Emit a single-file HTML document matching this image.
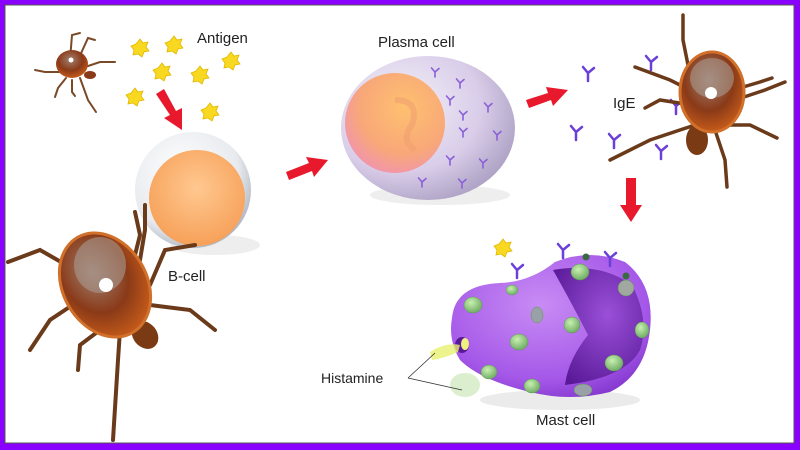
<!DOCTYPE html>
<html><head><meta charset="utf-8"><style>
html,body{margin:0;padding:0;width:800px;height:450px;overflow:hidden;background:#fff}
svg{display:block}
text{font-family:"Liberation Sans",sans-serif;fill:#222}
</style></head><body>
<svg width="800" height="450" viewBox="0 0 800 450" xmlns="http://www.w3.org/2000/svg">
<defs>
<radialGradient id="bsph" cx="0.4" cy="0.35" r="0.7"><stop offset="0" stop-color="#ffffff"/><stop offset="0.7" stop-color="#e8eaee"/><stop offset="1" stop-color="#a8b0bc"/></radialGradient>
<radialGradient id="borg" cx="0.5" cy="0.4" r="0.7"><stop offset="0" stop-color="#ffc890"/><stop offset="1" stop-color="#f59a50"/></radialGradient>
<radialGradient id="psph" cx="0.35" cy="0.35" r="0.75"><stop offset="0" stop-color="#f4f2f8"/><stop offset="0.6" stop-color="#d9cde9"/><stop offset="1" stop-color="#a89cc0"/></radialGradient>
<radialGradient id="pnuc" cx="0.6" cy="0.35" r="0.75"><stop offset="0" stop-color="#ffc070"/><stop offset="0.6" stop-color="#f8a878"/><stop offset="1" stop-color="#f090b8"/></radialGradient>
<radialGradient id="mast" cx="0.45" cy="0.35" r="0.75"><stop offset="0" stop-color="#c88cf4"/><stop offset="0.7" stop-color="#a558e8"/><stop offset="1" stop-color="#7c30c8"/></radialGradient>
<radialGradient id="mnuc" cx="0.6" cy="0.4" r="0.7"><stop offset="0" stop-color="#9a50d8"/><stop offset="1" stop-color="#5a1a98"/></radialGradient>
<radialGradient id="gran" cx="0.4" cy="0.35" r="0.7"><stop offset="0" stop-color="#c8f0b0"/><stop offset="1" stop-color="#6aa860"/></radialGradient>
<radialGradient id="tick" cx="0.45" cy="0.35" r="0.7"><stop offset="0" stop-color="#a08070"/><stop offset="0.55" stop-color="#8a3a18"/><stop offset="1" stop-color="#d0601a"/></radialGradient>
<g id="y"><path d="M0 8 L0 0 M0 0 L-5 -6 M0 0 L6 -5" stroke="#6a40d8" stroke-width="2.5" fill="none" stroke-linecap="round"/></g>
<g id="ys"><path d="M0 5 L0 0 M0 0 L-3.5 -4 M0 0 L4 -3.5" stroke="#8a60d8" stroke-width="1.6" fill="none" stroke-linecap="round"/></g>
<g id="star"><path d="M0 -9 L3 -5 L8 -6 L6 -1 L9 3 L4 4 L2 9 L-2 6 L-7 7 L-6 2 L-9 -2 L-4 -4 Z" fill="#f8d820" stroke="#e0b800" stroke-width="0.8"/></g>
</defs>
<rect x="0" y="0" width="800" height="450" fill="#8a00ff"/>
<rect x="5" y="5" width="789" height="438" fill="#fff" stroke="#555" stroke-width="1"/>

<!-- small tick -->
<g stroke="#7a4a28" stroke-width="2" fill="none" stroke-linecap="round">
<path d="M70 60 L72 35 L80 33"/><path d="M78 60 L88 38 L95 40"/><path d="M82 68 L100 62 L115 62"/><path d="M62 72 L45 72 L35 70"/><path d="M66 78 L58 88 L55 97"/><path d="M72 80 L72 92 L75 96"/><path d="M80 78 L88 100 L96 112"/>
</g>
<ellipse cx="72" cy="64" rx="16" ry="14" fill="url(#tick)"/>
<circle cx="71" cy="60" r="2.5" fill="#fff"/>
<ellipse cx="90" cy="75" rx="6" ry="4" fill="#8a3a18"/>

<use href="#star" x="140" y="48"/><use href="#star" x="174" y="45"/><use href="#star" x="162" y="72"/><use href="#star" x="200" y="75"/><use href="#star" x="231" y="61"/><use href="#star" x="135" y="97"/><use href="#star" x="210" y="112"/>
<text x="197" y="43" font-size="15">Antigen</text>

<g fill="#e8192c">
<path d="M156 94 L164 89 L176 111 L182 108 L182 130 L164 118 L170 115 Z"/>
<path d="M286 172 L289 180 L312 171 L314 177 L328 160 L306 157 L309 163 Z"/>
<path d="M526 100 L529 108 L551 100 L553 106 L568 90 L546 87 L548 93 Z"/>
<path d="M626 178 L636 178 L636 205 L642 205 L631 222 L620 205 L626 205 Z"/>
</g>

<ellipse cx="215" cy="245" rx="45" ry="10" fill="#ddd" opacity="0.5"/>
<circle cx="193" cy="190" r="58" fill="url(#bsph)"/>
<circle cx="197" cy="198" r="48" fill="url(#borg)"/>
<text x="168" y="281" font-size="15">B-cell</text>

<!-- big tick -->
<g stroke="#6a3a1a" stroke-width="4" fill="none" stroke-linecap="round">
<path d="M75 270 L40 250 L8 262"/><path d="M80 300 L50 320 L30 350"/><path d="M100 330 L80 345 L78 370"/><path d="M120 330 L118 360 L113 440"/><path d="M150 305 L190 310 L215 330"/><path d="M150 285 L165 250 L195 245"/><path d="M135 255 L140 235 L135 212"/><path d="M140 260 L145 230 L145 205"/>
</g>
<ellipse cx="145" cy="335" rx="12" ry="15" transform="rotate(-40 145 335)" fill="#7a3a14"/>
<ellipse cx="105" cy="285" rx="42" ry="55" transform="rotate(-30 105 285)" fill="url(#tick)" stroke="#d0702a" stroke-width="3"/>
<ellipse cx="100" cy="265" rx="26" ry="28" fill="#a89a90" opacity="0.6"/>
<circle cx="106" cy="285" r="7" fill="#fff"/>

<!-- plasma cell -->
<ellipse cx="440" cy="195" rx="70" ry="10" fill="#ddd" opacity="0.5"/>
<ellipse cx="428" cy="128" rx="87" ry="72" fill="url(#psph)"/>
<circle cx="395" cy="123" r="50" fill="url(#pnuc)"/>
<path d="M395 100 Q420 100 412 125 Q400 140 415 150" stroke="#f0a070" stroke-width="6" fill="none" opacity="0.6"/>
<use href="#ys" x="435" y="72"/><use href="#ys" x="460" y="83"/><use href="#ys" x="450" y="100"/><use href="#ys" x="463" y="115"/><use href="#ys" x="488" y="107"/><use href="#ys" x="463" y="132"/><use href="#ys" x="497" y="135"/><use href="#ys" x="450" y="160"/><use href="#ys" x="483" y="163"/><use href="#ys" x="422" y="182"/><use href="#ys" x="462" y="183"/>
<text x="378" y="47" font-size="15">Plasma cell</text>

<use href="#y" x="588" y="73"/><use href="#y" x="651" y="62"/><use href="#y" x="576" y="132"/><use href="#y" x="614" y="140"/><use href="#y" x="661" y="151"/><use href="#y" x="676" y="106"/>
<text x="613" y="108" font-size="15">IgE</text>

<!-- right tick -->
<g stroke="#6a3a1a" stroke-width="3.5" fill="none" stroke-linecap="round">
<path d="M690 75 L683 40 L683 15"/><path d="M690 90 L670 80 L635 67"/><path d="M692 105 L660 100 L645 108"/><path d="M695 125 L650 140 L610 160"/><path d="M725 125 L750 125 L777 138"/><path d="M735 100 L765 90 L785 82"/><path d="M733 90 L760 82 L772 78"/><path d="M715 130 L725 160 L727 187"/>
</g>
<ellipse cx="697" cy="140" rx="11" ry="15" fill="#7a3a14"/>
<ellipse cx="712" cy="92" rx="32" ry="40" fill="url(#tick)" stroke="#d0702a" stroke-width="3"/>
<ellipse cx="712" cy="78" rx="22" ry="20" fill="#a89a90" opacity="0.6"/>
<circle cx="711" cy="93" r="6" fill="#fff"/>

<!-- mast cell -->
<ellipse cx="560" cy="400" rx="80" ry="10" fill="#ddd" opacity="0.6"/>
<path d="M452 318 Q455 285 500 283 Q530 282 555 262 Q590 248 625 262 Q655 285 650 330 Q645 375 610 392 Q570 402 530 392 Q480 380 460 360 Q448 340 452 318 Z" fill="url(#mast)"/>
<path d="M553 270 Q600 262 632 285 Q650 320 640 350 Q625 378 565 385 Q568 360 588 335 Q570 300 553 270 Z" fill="url(#mnuc)"/>
<g fill="url(#gran)" stroke="#5a9a50" stroke-width="0.5">
<ellipse cx="580" cy="272" rx="9" ry="8"/><ellipse cx="512" cy="290" rx="6" ry="5"/><ellipse cx="473" cy="305" rx="9" ry="8"/><ellipse cx="519" cy="342" rx="9" ry="8"/><ellipse cx="572" cy="325" rx="8" ry="8"/><ellipse cx="642" cy="330" rx="7" ry="8"/><ellipse cx="614" cy="363" rx="9" ry="8"/><ellipse cx="489" cy="372" rx="8" ry="7"/><ellipse cx="532" cy="386" rx="8" ry="7"/><ellipse cx="626" cy="288" rx="8" ry="8" fill="#a0a8a0"/><ellipse cx="537" cy="315" rx="6" ry="8" fill="#9aa0a8"/><ellipse cx="583" cy="390" rx="9" ry="6" fill="#9aa0a8"/>
</g>
<circle cx="586" cy="257" r="3.5" fill="#3a6a40"/><circle cx="626" cy="276" r="3.5" fill="#3a6a40"/>
<ellipse cx="462" cy="345" rx="7" ry="8" fill="#5a1a98"/>
<ellipse cx="465" cy="344" rx="4" ry="6" fill="#f0f080"/>
<use href="#y" x="517" y="270"/><use href="#y" x="563" y="250"/><use href="#y" x="610" y="258"/>
<use href="#star" x="503" y="248"/>
<path d="M430 352 Q445 342 460 345 L458 352 Q445 358 432 360 Z" fill="#e8f070" opacity="0.8"/>
<ellipse cx="465" cy="385" rx="15" ry="12" fill="#b8e0a0" opacity="0.5"/>
<path d="M408 378 L435 353 M408 378 L462 390" stroke="#333" stroke-width="0.8" fill="none"/>
<text x="321" y="383" font-size="14">Histamine</text>
<text x="536" y="425" font-size="15">Mast cell</text>
</svg>
</body></html>
